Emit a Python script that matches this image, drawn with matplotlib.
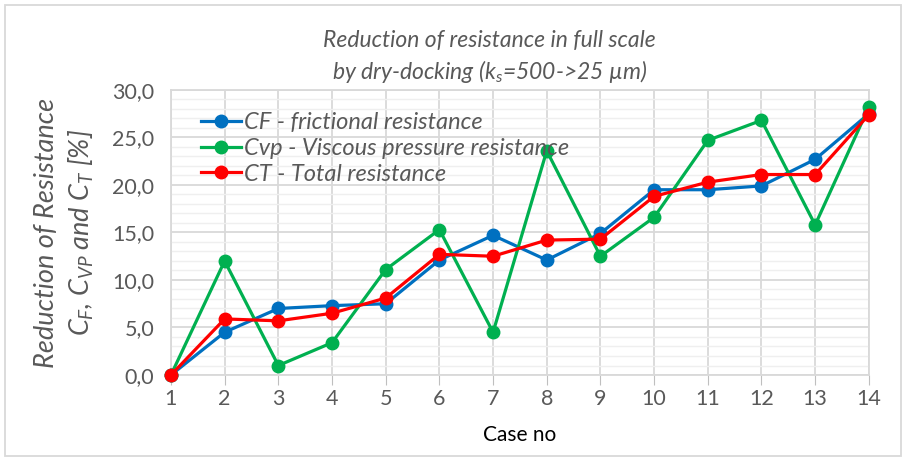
import matplotlib.pyplot as plt
from matplotlib.ticker import MultipleLocator, FuncFormatter
from matplotlib.patches import Rectangle

plt.rcParams['font.family'] = ['Lato', 'DejaVu Sans']
plt.rcParams['mathtext.fontset'] = 'custom'
plt.rcParams['mathtext.rm'] = 'Lato'
plt.rcParams['mathtext.it'] = 'Lato:italic'

cases = list(range(1, 15))
cf = [0.0, 4.5, 7.0, 7.3, 7.5, 12.1, 14.7, 12.1, 14.9, 19.5, 19.5, 19.9, 22.7, 27.5]
cvp = [0.0, 12.0, 1.0, 3.4, 11.1, 15.3, 4.5, 23.6, 12.5, 16.6, 24.7, 26.8, 15.8, 28.2]
ct = [0.0, 5.9, 5.7, 6.5, 8.1, 12.7, 12.5, 14.2, 14.3, 18.8, 20.3, 21.1, 21.1, 27.4]

labels = ['CF - frictional resistance',
          'Cvp - Viscous pressure resistance',
          'CT - Total resistance']
colors = ['#0070C0', '#00B050', '#FF0000']

fig = plt.figure(figsize=(9.06, 4.59), dpi=100)
ax = fig.add_axes([0.1887, 0.183, 0.7703, 0.621])

for vals, lab, col in zip([cf, cvp, ct], labels, colors):
    ax.plot(cases, vals, color=col, lw=2.3, marker='o', ms=9, label=lab,
            zorder=3, clip_on=False)

ax.set_xlim(1, 14)
ax.set_ylim(0, 30)
ax.set_xticks(cases)
ax.yaxis.set_major_locator(MultipleLocator(5))
ax.yaxis.set_minor_locator(MultipleLocator(1))
ax.yaxis.set_major_formatter(FuncFormatter(lambda v, p: f'{v:.1f}'.replace('.', ',')))

ax.grid(which='major', axis='both', color='#d9d9d9', lw=1.3, zorder=0)
ax.grid(which='minor', axis='y', color='#efefef', lw=1.0, zorder=0)
for s in ax.spines.values():
    s.set_color('#d9d9d9')
    s.set_linewidth(1.3)
ax.tick_params(axis='y', which='both', length=0, labelsize=15.5, labelcolor='#595959', pad=12)
ax.tick_params(axis='x', length=7, color='#bfbfbf', labelsize=15.5, labelcolor='#595959', pad=3)

ax.set_xlabel('Case no', fontsize=15, color='#000000', labelpad=-1)
ax.xaxis.set_label_coords(0.5, -0.175)
ax.set_ylabel('Reduction of Resistance\n$C_F$, $C_{VP}$ and $C_T$ [%]', fontsize=19.5,
              color='#595959', style='italic', labelpad=12, linespacing=1.3)

fig.text(0.54, 0.875, 'Reduction of resistance in full scale\nby dry-docking ($k_s$=500->25 µm)',
         ha='center', va='center', fontsize=16.5, color='#595959', style='italic',
         linespacing=1.35)

leg = ax.legend(loc='upper left', bbox_to_anchor=(0.03, 0.955), frameon=False,
                fontsize=17, handlelength=1.7, handletextpad=0.1, labelspacing=0.2,
                borderaxespad=0)
for t in leg.get_texts():
    t.set_color('#595959')
    t.set_fontstyle('italic')

fig.patches.append(Rectangle((0.006, 0.006), 0.988, 0.983, transform=fig.transFigure,
                             fill=False, ec='#d9d9d9', lw=1.3))

fig.savefig('out.png', dpi=100)
